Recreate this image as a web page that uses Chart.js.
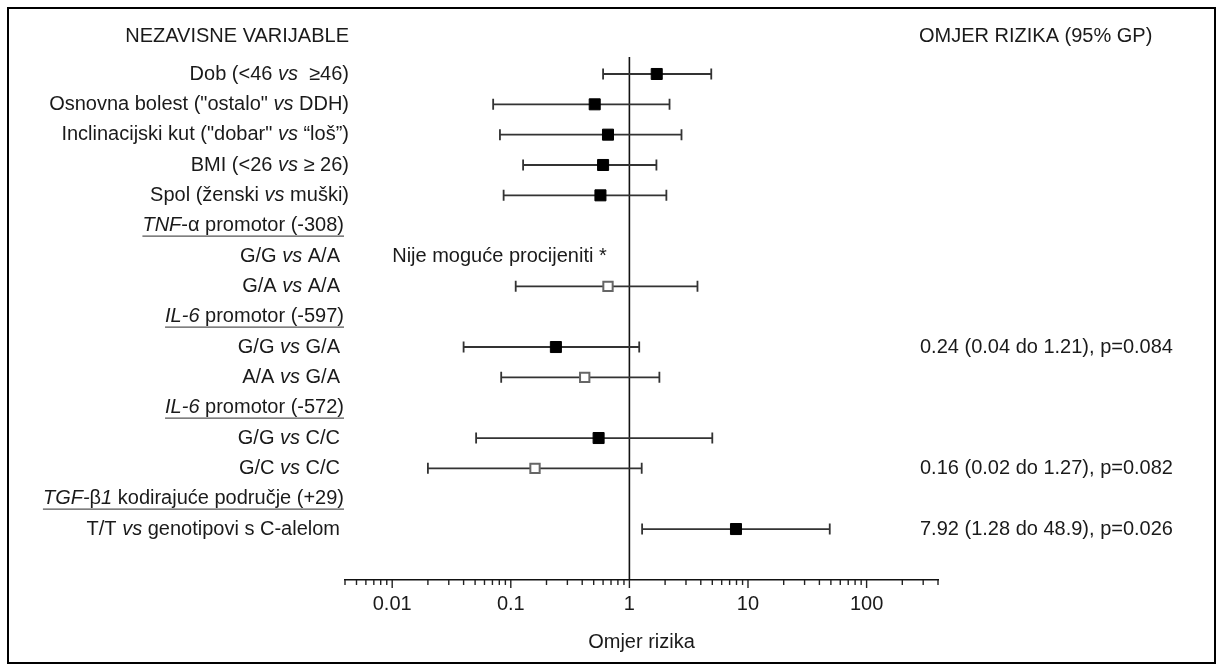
<!DOCTYPE html>
<html>
<head>
<meta charset="utf-8">
<script src="https://cdn.jsdelivr.net/npm/chart.js@4/dist/chart.umd.min.js"></script>
<style>
  html, body { margin: 0; padding: 0; background: #ffffff; }
  #wrap { width: 1222px; height: 670px; position: relative; }
  canvas { display: block; }
</style>
</head>
<body>
<div id="wrap"><canvas id="c" width="1222" height="670"></canvas></div>
<script>
// ---------------- DATA ----------------
// segments between * are italic
const categories = [
  'Dob (<46 *vs*  ≥46)',
  'Osnovna bolest ("ostalo" *vs* DDH)',
  'Inclinacijski kut ("dobar" *vs* “loš”)',
  'BMI (<26 *vs* ≥ 26)',
  'Spol (ženski *vs* muški)',
  '*TNF*-α promotor (-308)',
  'G/G *vs* A/A',
  'G/A *vs* A/A',
  '*IL-6* promotor (-597)',
  'G/G *vs* G/A',
  'A/A *vs* G/A',
  '*IL-6* promotor (-572)',
  'G/G *vs* C/C',
  'G/C *vs* C/C',
  '*TGF-*β*1* kodirajuće područje (+29)',
  'T/T *vs* genotipovi s C-alelom'
];
const rowKind = ['var','var','var','var','var','group','sub','sub','group','sub','sub','group','sub','sub','group','sub'];
const oddsRatio = [1.70, 0.51, 0.66, 0.60, 0.57, null, null, 0.66, null, 0.24, 0.42, null, 0.55, 0.16, null, 7.92];
const ciLower   = [0.60, 0.071, 0.081, 0.127, 0.087, null, null, 0.11, null, 0.04, 0.083, null, 0.051, 0.02, null, 1.28];
const ciUpper   = [4.90, 2.18, 2.75, 1.69, 2.05, null, null, 3.75, null, 1.21, 1.79, null, 5.0, 1.27, null, 48.9];
const filledMarker = [true, true, true, true, true, null, null, false, null, true, false, null, true, false, null, true];
const rowNotes = ['', '', '', '', '', '', 'Nije moguće procijeniti *', '', '', '', '', '', '', '', '', ''];
const rightText = ['', '', '', '', '', '', '', '', '',
  '0.24 (0.04 do 1.21), p=0.084', '', '', '',
  '0.16 (0.02 do 1.27), p=0.082', '',
  '7.92 (1.28 do 48.9), p=0.026'];
const tickValues = [0.01, 0.1, 1, 10, 100];
const tickLabels = ['0.01', '0.1', '1', '10', '100'];
const axisTitle = 'Omjer rizika';
const leftHeader = 'NEZAVISNE VARIJABLE';
const rightHeader = 'OMJER RIZIKA (95% GP)';
const xMin = 0.004, xMax = 400;

// ---------------- STYLE ----------------
const FONT = '"Liberation Sans", Arial, Helvetica, sans-serif';
const FS = 20;
const TXT = '#1a1a1a';

// build point datasets from the arrays
const filledPts = [], openPts = [];
oddsRatio.forEach((v, i) => {
  if (v == null) return;
  (filledMarker[i] ? filledPts : openPts).push({x: v, y: i});
});

// all log ticks (1..9 x 10^e) inside range
function allLogTicks() {
  const out = [];
  for (let e = -3; e <= 2; e++) {
    for (let m = 1; m <= 9; m++) {
      const v = m * Math.pow(10, e);
      if (v >= xMin * 0.999 && v <= xMax * 1.001) out.push(v);
    }
  }
  return out;
}
function isMajor(v) {
  return tickValues.some(t => Math.abs(Math.log10(v) - Math.log10(t)) < 1e-6);
}

function drawRich(ctx, text, xRight, y, underline) {
  const parts = text.split('*');
  const segs = parts.map((p, k) => ({t: p, it: k % 2 === 1}));
  let total = 0;
  segs.forEach(s => {
    ctx.font = (s.it ? 'italic ' : '') + FS + 'px ' + FONT;
    s.w = ctx.measureText(s.t).width;
    total += s.w;
  });
  let x = xRight - total;
  const x0 = x;
  ctx.textAlign = 'left';
  ctx.textBaseline = 'middle';
  segs.forEach(s => {
    ctx.font = (s.it ? 'italic ' : '') + FS + 'px ' + FONT;
    ctx.fillText(s.t, x, y);
    x += s.w;
  });
  if (underline) {
    ctx.save();
    ctx.strokeStyle = '#555';
    ctx.lineWidth = 1.2;
    ctx.beginPath();
    ctx.moveTo(x0, y + 10.5);
    ctx.lineTo(x, y + 10.5);
    ctx.stroke();
    ctx.restore();
  }
}

const forestPlugin = {
  id: 'forest',
  beforeDatasetsDraw(chart) {
    const {ctx, chartArea, scales: {x, y}} = chart;
    ctx.save();
    // reference line at OR = 1
    const x1 = x.getPixelForValue(1);
    ctx.strokeStyle = '#111';
    ctx.lineWidth = 1.6;
    ctx.beginPath();
    ctx.moveTo(x1, chartArea.top);
    ctx.lineTo(x1, chartArea.bottom);
    ctx.stroke();
    // confidence intervals
    ctx.strokeStyle = '#333';
    ctx.lineWidth = 1.8;
    oddsRatio.forEach((v, i) => {
      if (v == null) return;
      const py = y.getPixelForValue(i);
      const pl = x.getPixelForValue(ciLower[i]);
      const pu = x.getPixelForValue(ciUpper[i]);
      ctx.beginPath();
      ctx.moveTo(pl, py); ctx.lineTo(pu, py);
      ctx.moveTo(pl, py - 5.5); ctx.lineTo(pl, py + 5.5);
      ctx.moveTo(pu, py - 5.5); ctx.lineTo(pu, py + 5.5);
      ctx.stroke();
    });
    ctx.restore();
  },
  afterDraw(chart) {
    const {ctx, chartArea, scales: {x, y}} = chart;
    ctx.save();
    // tick marks
    ctx.strokeStyle = '#222';
    ctx.lineWidth = 1.4;
    x.ticks.forEach(t => {
      const px = x.getPixelForValue(t.value);
      const len = isMajor(t.value) ? 8 : 5;
      ctx.beginPath();
      ctx.moveTo(px, chartArea.bottom);
      ctx.lineTo(px, chartArea.bottom + len);
      ctx.stroke();
    });
    ctx.fillStyle = TXT;
    // left labels
    categories.forEach((lab, i) => {
      const py = y.getPixelForValue(i);
      const kind = rowKind[i];
      const xr = kind === 'var' ? 349 : (kind === 'group' ? 344 : 340);
      drawRich(ctx, lab, xr, py, kind === 'group');
    });
    // notes inside plot
    ctx.font = FS + 'px ' + FONT;
    ctx.textAlign = 'left';
    ctx.textBaseline = 'middle';
    rowNotes.forEach((n, i) => {
      if (!n) return;
      ctx.fillText(n, x.getPixelForValue(0.01), y.getPixelForValue(i));
    });
    // right column
    rightText.forEach((t, i) => {
      if (!t) return;
      ctx.fillText(t, 920, y.getPixelForValue(i));
    });
    // headers
    ctx.textAlign = 'right';
    ctx.fillText(leftHeader, 349, 36);
    ctx.textAlign = 'left';
    ctx.fillText(rightHeader, 919, 36);
    // frame
    ctx.strokeStyle = '#000';
    ctx.lineWidth = 2;
    ctx.strokeRect(8, 8, 1207, 655);
    ctx.restore();
  }
};

new Chart(document.getElementById('c'), {
  type: 'scatter',
  data: {
    datasets: [
      {
        label: 'filled',
        data: filledPts,
        pointStyle: 'rect',
        pointRadius: 7.8,
        pointBackgroundColor: '#000',
        pointBorderColor: '#000',
        pointBorderWidth: 1
      },
      {
        label: 'open',
        data: openPts,
        pointStyle: 'rect',
        pointRadius: 6.6,
        pointBackgroundColor: '#fff',
        pointBorderColor: '#666',
        pointBorderWidth: 2
      }
    ]
  },
  options: {
    responsive: false,
    animation: false,
    events: [],
    layout: { padding: { left: 345, right: 284, top: 57, bottom: 0 } },
    plugins: { legend: { display: false }, tooltip: { enabled: false } },
    scales: {
      x: {
        type: 'logarithmic',
        position: 'bottom',
        min: xMin,
        max: xMax,
        afterBuildTicks(scale) {
          scale.ticks = allLogTicks().map(v => ({value: v}));
        },
        afterFit(scale) { scale.height = 90; },
        grid: { display: false, drawTicks: false },
        border: { display: true, color: '#111', width: 1.6 },
        ticks: {
          autoSkip: false,
          maxRotation: 0,
          padding: 12,
          color: TXT,
          font: { family: FONT, size: FS },
          callback(value) {
            const k = tickValues.findIndex(t => Math.abs(Math.log10(value) - Math.log10(t)) < 1e-6);
            return k >= 0 ? tickLabels[k] : '';
          }
        },
        title: {
          display: true,
          text: axisTitle,
          color: TXT,
          font: { family: FONT, size: FS },
          padding: { top: 0, bottom: 16 }
        }
      },
      y: {
        type: 'linear',
        display: false,
        reverse: true,
        min: -0.56,
        max: 16.68
      }
    }
  },
  plugins: [forestPlugin]
});
</script>
</body>
</html>
